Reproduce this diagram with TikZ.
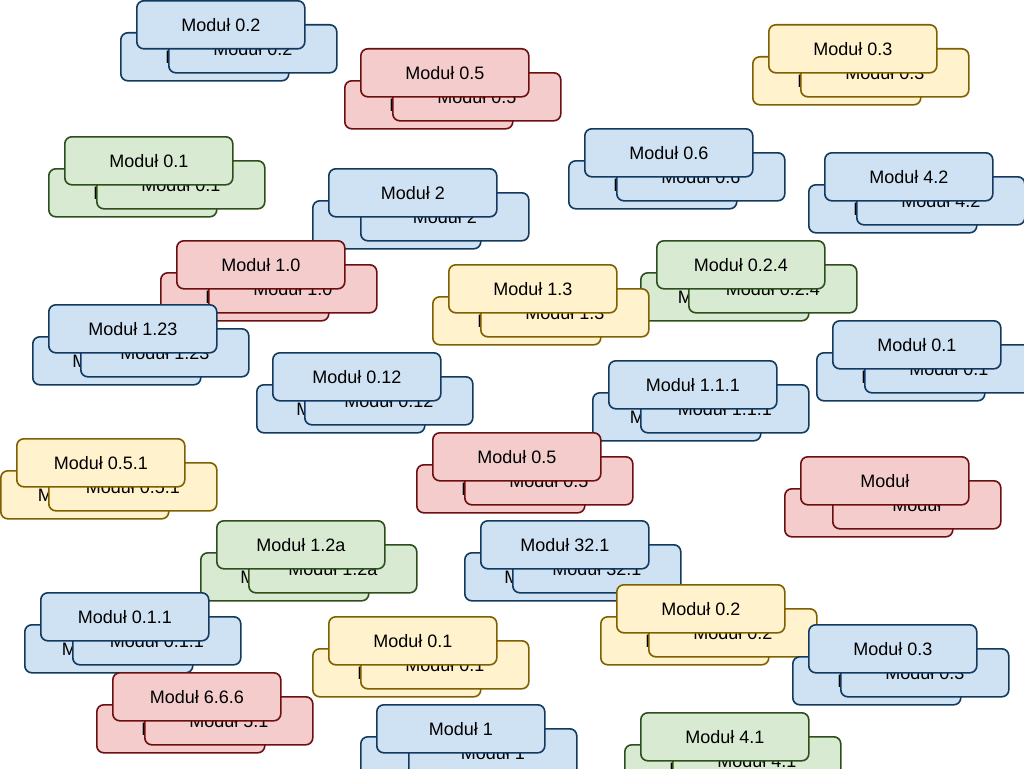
\documentclass[tikz,border=0pt]{standalone}
\usepackage{fontspec}
\setmainfont{Liberation Sans}
\usetikzlibrary{positioning}
\definecolor{bluebg}{HTML}{CFE2F3}
\definecolor{blueln}{HTML}{12395E}
\definecolor{redbg}{HTML}{F4CCCC}
\definecolor{redln}{HTML}{6E0F0F}
\definecolor{greenbg}{HTML}{D9EAD3}
\definecolor{greenln}{HTML}{2E4F1C}
\definecolor{yellowbg}{HTML}{FFF2CC}
\definecolor{yellowln}{HTML}{7F6000}
\tikzset{
  modbox/.style={draw=#1ln,fill=#1bg,line width=1.6pt,rounded corners=7pt,
    minimum width=168pt,minimum height=48pt,inner sep=0pt,anchor=north west,
    font=\fontsize{18}{21}\selectfont},
}

\begin{document}
\begin{tikzpicture}[x=1pt,y=-1pt]
  \useasboundingbox[fill=white] (0,0) rectangle (1024,768);
  % each module: two copies behind, the named one in front
  \foreach \x/\y/\lbl/\blbl/\col [count=\i] in {
      136/0/0.2/0.2/blue, 768/24/0.3/0.3/yellow, 360/48/0.5/0.5/red,
      584/128/0.6/0.6/blue, 64/136/0.1/0.1/green, 824/152/4.2/4.2/blue,
      328/168/2/2/blue, 176/240/1.0/1.0/red, 656/240/0.2.4/0.2.4/green,
      448/264/1.3/1.3/yellow, 48/304/1.23/1.23/blue, 832/320/0.1/0.1/blue,
      272/352/0.12/0.12/blue, 608/360/1.1.1/1.1.1/blue, 432/432/0.5/0.5/red,
      16/438/0.5.1/0.5.1/yellow, 800/456/{}/{}/red, 216/520/1.2a/1.2a/green,
      480/520/32.1/32.1/blue, 616/584/0.2/0.2/yellow, 40/592/0.1.1/0.1.1/blue,
      328/616/0.1/0.1/yellow, 808/624/0.3/0.3/blue, 112/672/6.6.6/5.1/red,
      376/704/1/1/blue, 640/712/4.1/4.1/green} {
    \node[modbox=\col] (back\i) at (\x-16,\y+32) {Moduł \blbl};
    \node[modbox=\col] (mid\i) at (\x+32,\y+24) {Moduł \blbl};
    \node[modbox=\col] (top\i) at (\x,\y) {Moduł \lbl};
  }
\end{tikzpicture}
\end{document}
